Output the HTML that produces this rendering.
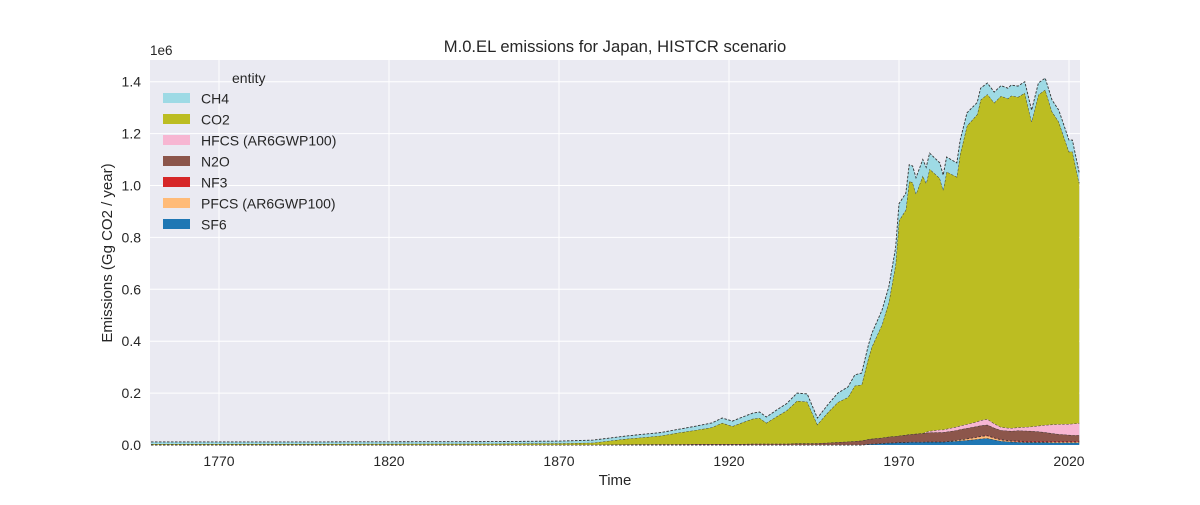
<!DOCTYPE html>
<html><head><meta charset="utf-8"><style>
body{margin:0;background:#fff;font-family:"Liberation Sans",Arial,sans-serif;}
svg text{font-family:"Liberation Sans",Arial,sans-serif;fill:#262626;}
</style></head><body>
<svg id="chart" width="1200" height="500" xmlns="http://www.w3.org/2000/svg">
<rect x="0" y="0" width="1200" height="500" fill="#fff"/>
<rect x="150" y="60" width="930" height="385" fill="#eaeaf2"/>
<g id="grid"></g>
<g id="areas"></g>
<g id="ticks"></g>
<text x="615" y="52" text-anchor="middle" font-size="16.6">M.0.EL emissions for Japan, HISTCR scenario</text>
<text x="150" y="55" font-size="13.5">1e6</text>
<text x="112" y="253" text-anchor="middle" font-size="15" transform="rotate(-90 112 253)">Emissions (Gg CO2 / year)</text>
<text x="615" y="485" text-anchor="middle" font-size="15">Time</text>
<g id="legend">
<text x="232" y="83" font-size="14">entity</text>
</g>
</svg>
<script>
const years=[1750,1800,1850,1870,1880,1890,1900,1905,1910,1915,1918,1921,1924,1927,1929,1931,1934,1937,1940,1943,1946,1949,1952,1955,1957,1959,1961,1962,1965,1967,1969,1970,1972,1973,1974,1975,1977,1978,1979,1982,1983,1984,1987,1988,1990,1993,1994,1996,1998,2000,2002,2003,2005,2007,2009,2011,2013,2015,2017,2020,2021,2023];
// values in thousand Gg CO2 (i.e. 1e3 Gg)
const sf6=[0,0,0,0,0,0,0,0,0,0,0,0,0,0,0,0,0,0,0,0,0,0,0,0,0,0,3,4,6,8,9,10,10,11,11,11,11,12,12,12,12,13,15,16,18,22,24,26,20,15,13,12,11,10,10,10,10,9,9,9,9,9];
const pfcs=[0,0,0,0,0,0,0,0,0,0,0,0,0,0,0,0,0,0,0,0,0,0,0,0,0,0,0,0,0,0,0,0,0,0,0,0,0,0,0,0,0,0,3,4,6,8,9,10,7,5,4,3,3,2,2,2,2,3,3,3,3,3];
const nf3=[0,0,0,0,0,0,1,1,1,1,1,1,1,1,1,1,1,1,1,1,1,1,1,1,1,1,1,1,1,1,1,1,1,1,1,1,1,1,1,1,1,1,1,1,1,2,2,2,2,2,2,2,3,3,3,3,3,3,3,3,3,3];
const n2o=[1,1,1,1,1,2,2,2,3,3,3,3,3,4,4,4,4,4,5,5,6,8,10,12,14,16,18,19,21,23,24,25,28,29,30,31,33,34,35,36,36,37,38,39,40,40,40,40,37,35,36,37,39,40,39,37,34,30,27,24,23,23];
const hfcs=[0,0,0,0,0,0,0,0,0,0,0,0,0,0,0,0,0,0,0,0,0,0,0,0,0,0,0,0,0,0,0,0,0,0,0,0,0,3,6,10,10,11,13,14,15,18,20,22,17,12,11,11,12,14,17,22,28,34,38,42,44,46];
const co2=[3,3,4,5,8,22,33,44,53,64,81,68,83,96,99,80,105,128,164,161,72,115,154,171,213,215,313,354,436,518,662,829,867,975,970,924,993,958,1010,969,923,991,963,1048,1150,1184,1235,1252,1236,1276,1269,1281,1273,1288,1175,1276,1292,1206,1165,1049,1049,925];
const ch4=[8,8,8,9,10,11,12,13,15,17,19,20,21,22,23,23,25,27,30,30,25,30,35,40,42,45,50,52,56,60,64,65,64,64,63,63,62,62,61,59,58,57,54,53,50,46,45,43,41,40,40,41,42,43,44,45,45,45,45,45,44,40];
const seriesNames=["SF6","PFCS (AR6GWP100)","NF3","N2O","HFCS (AR6GWP100)","CO2","CH4"];
const seriesData=[sf6,pfcs,nf3,n2o,hfcs,co2,ch4];
const colors=["#1f77b4","#ffbb78","#d62728","#8c564b","#f7b6d2","#bcbd22","#9edae5"];
const xTicks=[1770,1820,1870,1920,1970,2020];
const yTicks=[0,0.2,0.4,0.6,0.8,1.0,1.2,1.4];
const yTickLabels=["0.0","0.2","0.4","0.6","0.8","1.0","1.2","1.4"];

const X0=150,X1=1080,Y0=445;
const xs=y=>219+(y-1770)*3.4;
const ys=v=>Y0-v/1000*259.5;
const NS="http://www.w3.org/2000/svg";
function mk(tag,attrs,parent){const e=document.createElementNS(NS,tag);for(const k in attrs)e.setAttribute(k,attrs[k]);parent.appendChild(e);return e;}
const grid=document.getElementById('grid'),ticks=document.getElementById('ticks'),areas=document.getElementById('areas'),legend=document.getElementById('legend');
xTicks.forEach(t=>{
  const l=mk('line',{x1:xs(t),x2:xs(t),y1:60,y2:445,stroke:'#fff','stroke-width':1},grid);
  
  
  const tx=mk('text',{x:xs(t),y:466,'text-anchor':'middle','font-size':14},ticks);tx.textContent=t;
  
  
});
yTicks.forEach((t,i)=>{
  const l=mk('line',{x1:X0,x2:X1,y1:ys(t*1000),y2:ys(t*1000),stroke:'#fff','stroke-width':1},grid);
  
  
  const tx=mk('text',{x:141,y:ys(t*1000)+5,'text-anchor':'end','font-size':14},ticks);tx.textContent=yTickLabels[i];
  
  
});
const base=years.map(()=>0);
seriesData.forEach((arr,si)=>{
  const top=base.map((b,i)=>b+arr[i]);
  let d='M'+years.map((y,i)=>xs(y).toFixed(1)+','+ys(top[i]).toFixed(1)).join('L');
  for(let i=years.length-1;i>=0;i--)d+='L'+xs(years[i]).toFixed(1)+','+ys(base[i]).toFixed(1);
  d+='Z';
  const p=mk('path',{d:d,fill:colors[si],stroke:'none'},areas);
  
  
  const ln=mk('path',{d:'M'+years.map((y,i)=>xs(y).toFixed(1)+','+ys(top[i]).toFixed(1)).join('L'),fill:'none',stroke:'#333','stroke-width':0.9,'stroke-dasharray':'2.5,1.5'},areas);
  
  
  top.forEach((v,i)=>base[i]=v);
});
for(let k=seriesNames.length-1,r=0;k>=0;k--,r++){
  const y=93+r*21;
  const g=mk('g',{},legend);
  
  
  mk('rect',{x:163,y:y,width:27,height:10,fill:colors[k]},g);
  const t=mk('text',{x:201,y:y+10.5,'font-size':14},g);t.textContent=seriesNames[k];
}
</script>
</body></html>
